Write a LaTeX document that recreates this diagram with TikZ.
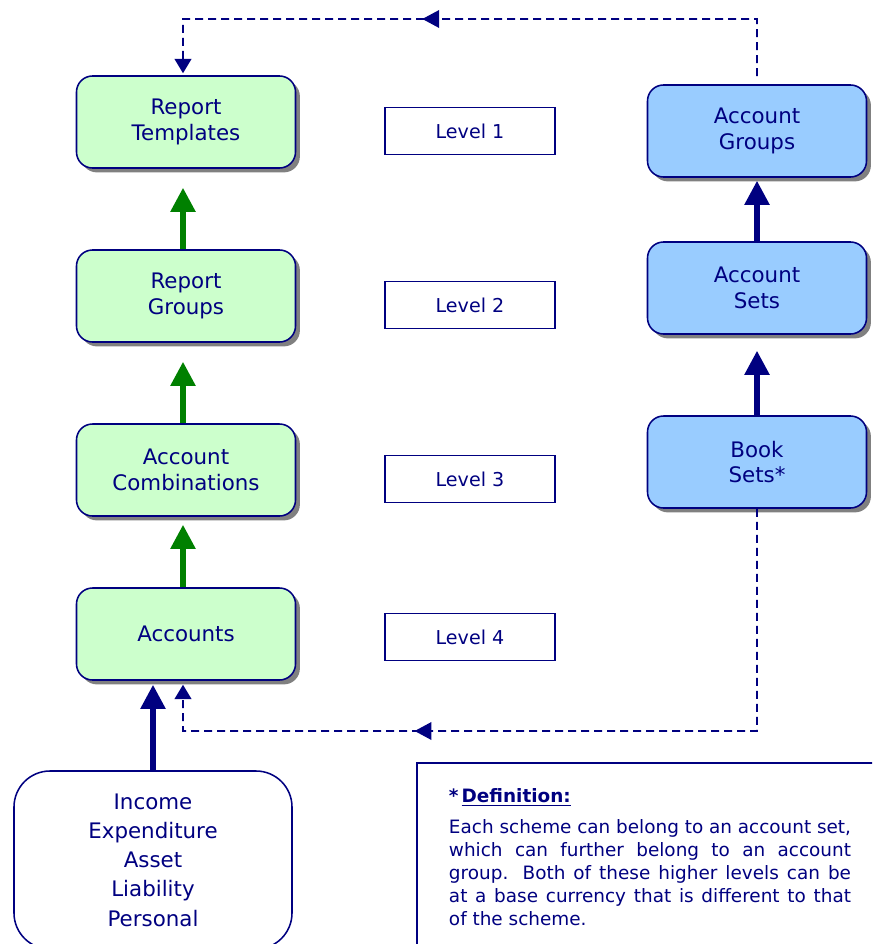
\documentclass[tikz,border=0pt]{standalone}
\usepackage{fontspec}
\setmainfont{DejaVu Sans}
\usetikzlibrary{arrows.meta,shadows,decorations.markings}
\definecolor{navy}{RGB}{0,0,128}
\definecolor{palegreen}{RGB}{204,255,204}
\definecolor{skyblue}{RGB}{153,204,255}
\definecolor{arrowgreen}{RGB}{0,128,0}
\tikzset{
  box/.style={draw=navy, line width=1.1pt, rounded corners=4mm, minimum width=54.75mm,
    minimum height=23mm, align=center, text=navy, font=\fontsize{15.2}{18.4}\selectfont,
    drop shadow={shadow xshift=1.1mm, shadow yshift=-1.1mm, fill=gray, opacity=1}},
  greenbox/.style={box, fill=palegreen},
  bluebox/.style={box, fill=skyblue},
  lvlbox/.style={draw=navy, line width=1pt, minimum width=42.5mm, minimum height=11.75mm,
    text=navy, font=\fontsize{13.6}{16}\selectfont},
  bigarrow/.style={line width=1.3mm, -{Triangle[width=6mm,length=6mm]}},
  feedback/.style={navy, line width=1.2pt, dash pattern=on 2mm off 1.25mm,
    -{Triangle[width=4.2mm,length=3.6mm]}}
}
\begin{document}
\begin{tikzpicture}[x=0.25mm,y=-0.25mm]
    \useasboundingbox (0,0) rectangle (872,944);
    \clip (0,0) rectangle (872,944);

    % left column
    \node[greenbox] (tmpl) at (186,122) {Report\\Templates};
    \node[greenbox] (rgrp) at (186,296) {Report\\Groups};
    \node[greenbox] (comb) at (186,470) {Account\\Combinations};
    \node[greenbox] (acct) at (186,634) {Accounts};

    % levels
    \node[lvlbox] (lv1) at (470,131) {Level 1};
    \node[lvlbox] (lv2) at (470,305) {Level 2};
    \node[lvlbox] (lv3) at (470,479) {Level 3};
    \node[lvlbox] (lv4) at (470,637) {Level 4};

    % right column
    \node[bluebox] (agrp) at (757,131) {Account\\Groups};
    \node[bluebox] (aset) at (757,288) {Account\\Sets};
    \node[bluebox] (bset) at (757,462) {Book\\Sets*};

    % account types
    \node[draw=navy, line width=1.1pt, rounded corners=9mm, minimum width=69.5mm,
      minimum height=44.5mm, align=center, text=navy,
      font=\fontsize{15.2}{20.8}\selectfont] (types) at (153,860)
      {Income\\Expenditure\\Asset\\Liability\\Personal};

    \node[draw=navy, line width=1.4pt, anchor=north west, inner xsep=8mm, inner ysep=6.5mm,
      text width=100.5mm, align=justify, text=navy,
      font=\fontsize{13.1}{16.4}\selectfont] (defn) at (416,762)
      {\textbf{*\,\underline{Definition:}}\\[1.8mm]
       Each scheme can belong to an account set,\linebreak
       which can further belong to an account\linebreak
       group. Both of these higher levels can be\linebreak
       at a base currency that is different to that\linebreak
       of the scheme.\\[20mm]};

    \draw[bigarrow, arrowgreen, shorten >=4.75mm] ([xshift=-0.75mm]rgrp.north) -- ([xshift=-0.75mm]tmpl.south);
    \draw[bigarrow, arrowgreen, shorten >=4.75mm] ([xshift=-0.75mm]comb.north) -- ([xshift=-0.75mm]rgrp.south);
    \draw[bigarrow, arrowgreen, shorten >=2mm] ([xshift=-0.75mm]acct.north) -- ([xshift=-0.75mm]comb.south);
    \draw[bigarrow, navy, shorten >=0.75mm] (aset.north) -- (agrp.south);
    \draw[bigarrow, navy, shorten >=4mm] (bset.north) -- (aset.south);
    \draw[bigarrow, navy, shorten >=1mm] (types.north) -- (types.north |- acct.south);

    % dashed feedback lines
    \coordinate (topleft) at (183,19);
    \coordinate (botleft) at (183,731);
    \draw[feedback, shorten <=2mm, shorten >=0.5mm,
      postaction={decorate, decoration={markings,
        mark=at position 0.575 with {\arrow{Triangle[width=4.4mm,length=4.2mm]}}}}]
      (agrp.north) |- (topleft) -- ([xshift=-0.75mm]tmpl.north);
    \draw[feedback, shorten >=1mm,
      postaction={decorate, decoration={markings,
        mark=at position 0.667 with {\arrow{Triangle[width=4.4mm,length=4.2mm]}}}}]
      (bset.south) |- (botleft) -- ([xshift=-0.75mm]acct.south);
\end{tikzpicture}
\end{document}
